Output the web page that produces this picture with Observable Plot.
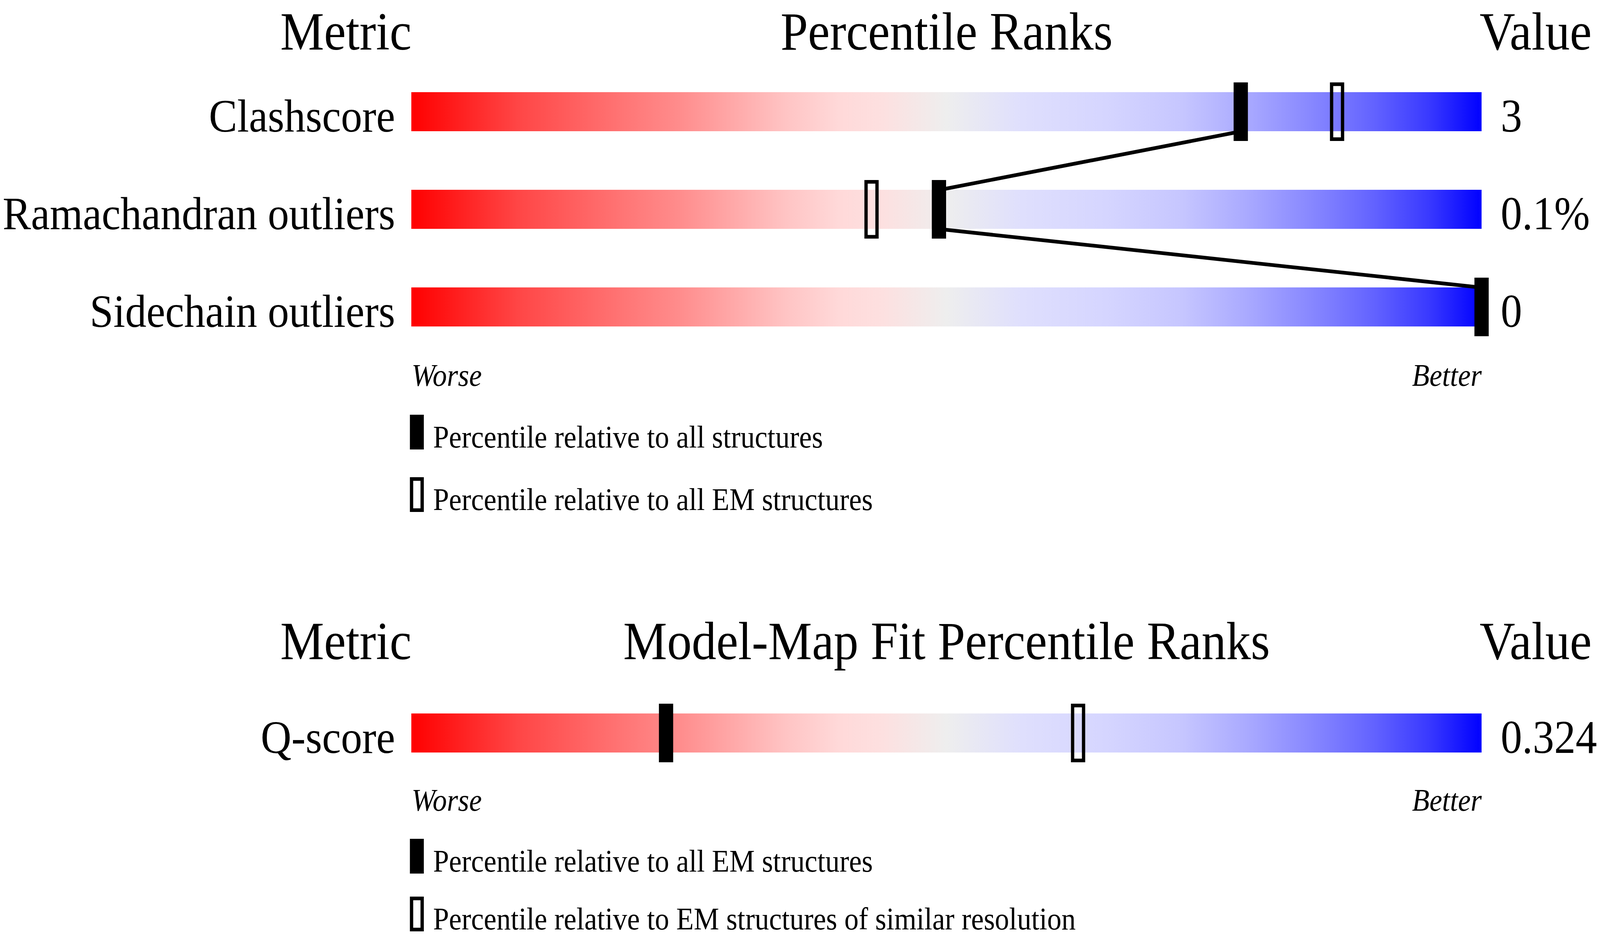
<!DOCTYPE html>
<html>
<head>
<meta charset="utf-8">
<script src="https://cdn.jsdelivr.net/npm/d3@7"></script>
<script src="https://cdn.jsdelivr.net/npm/@observablehq/plot@0.6"></script>
<style>
  html, body { margin: 0; padding: 0; background: #ffffff; overflow: hidden; }
  #wrap { position: relative; width: 4485px; height: 2402px; overflow: hidden; background: #ffffff;
          transform-origin: 0 0;
          font-family: "Liberation Serif", "Times New Roman", serif; }
  .part { position: absolute; left: 0; display: block; max-width: none !important; }
</style>
</head>
<body>
<div id="wrap"></div>
<script>
// ---------------- data ----------------
const percentDomain = [0, 100];

const geometryHeaders = ["Metric", "Percentile Ranks", "Value"];
const geometryMetrics = ["Clashscore", "Ramachandran outliers", "Sidechain outliers"];
const geometryValues = ["3", "0.1%", "0"];
const geometryAllPercentile = [77.5, 49.3, 100];
const geometryEMPercentile = [86.5, 43.0, null];
const geometryLegend = ["Percentile relative to all structures", "Percentile relative to all EM structures"];

const fitHeaders = ["Metric", "Model-Map Fit Percentile Ranks", "Value"];
const fitMetrics = ["Q-score"];
const fitValues = ["0.324"];
const fitAllEMPercentile = [23.8];
const fitSimilarPercentile = [62.3];
const fitLegend = ["Percentile relative to all EM structures", "Percentile relative to EM structures of similar resolution"];

const endLabels = ["Worse", "Better"];

// gradient colour stops (offset %, colour)
const gradientOffsets = [0, 10, 20, 25, 30, 35, 40, 44, 50, 57, 65, 72, 78, 85, 90, 95, 100];
const gradientColors = ["#ff0000", "#ff4646", "#ff7676", "#ff8c8c", "#ffa8a8", "#ffc4c4", "#ffd9d9", "#fde0e0",
                        "#eeeeee", "#dfdffd", "#d5d5ff", "#c6c6ff", "#aaaaff", "#8282ff", "#6262ff", "#3a3aff", "#0000ff"];

// ---------------- drawing ----------------
const FONT = "Liberation Serif";
const W = 4485, H = 2402;
const wrap = document.getElementById("wrap");

// fit the design to the actual viewport
const sx = Math.min(1, window.innerWidth / W);
const sy = Math.min(1, window.innerHeight / H);
wrap.style.transform = `scale(${sx}, ${sy})`;

function addGradient(svgNode, id) {
  const svg = d3.select(svgNode);
  const defs = svg.insert("defs", ":first-child");
  const g = defs.append("linearGradient").attr("id", id)
    .attr("x1", "0%").attr("x2", "100%").attr("y1", "0%").attr("y2", "0%");
  gradientOffsets.forEach((o, k) => {
    g.append("stop").attr("offset", o + "%").attr("stop-color", gradientColors[k]);
  });
}

function sectionPlot({headers, metrics, values, solid, hollow, height, headerY, rowY, endsY, gradId}) {
  const rows = metrics.map((m, i) => ({metric: m, i, value: values[i], solid: solid[i], hollow: hollow[i]}));
  const links = rows.slice(1).map((r, k) => ({
    x1: rows[k].solid, y1: rows[k].i + 0.2,
    x2: r.solid, y2: r.i - 0.2
  }));
  const mid = (percentDomain[0] + percentDomain[1]) / 2;
  const svg = Plot.plot({
    width: W,
    height,
    marginTop: 0, marginBottom: 0, marginLeft: 1153, marginRight: 332,
    style: {fontFamily: FONT, background: "#ffffff", color: "#000000", overflow: "visible", maxWidth: "none"},
    x: {domain: percentDomain, range: [1153, 4153], axis: null},
    y: {domain: [0, 1], range: [rowY, rowY + 250], axis: null},
    marks: [
      // column headers
      Plot.text([headers[0]], {x: percentDomain[0], frameAnchor: "top", dy: headerY, lineAnchor: "bottom",
        text: d => d, textAnchor: "end", fontSize: 138, fill: "#000"}),
      Plot.text([headers[1]], {x: mid, frameAnchor: "top", dy: headerY, lineAnchor: "bottom",
        text: d => d, textAnchor: "middle", fontSize: 138, fill: "#000"}),
      Plot.text([headers[2]], {x: percentDomain[1], frameAnchor: "top", dy: headerY, lineAnchor: "bottom",
        text: d => d, textAnchor: "start", dx: -6, fontSize: 138, fill: "#000"}),
      // gradient bars
      Plot.rect(rows, {x1: percentDomain[0], x2: percentDomain[1], y1: d => d.i - 0.2, y2: d => d.i + 0.2,
        fill: `url(#${gradId})`}),
      // connecting lines between the "all" percentiles
      Plot.link(links, {x1: "x1", y1: "y1", x2: "x2", y2: "y2", stroke: "#000", strokeWidth: 9.5}),
      // hollow markers
      Plot.rect(rows.filter(d => d.hollow != null), {x1: "hollow", x2: "hollow", y1: d => d.i - 0.3, y2: d => d.i + 0.3,
        insetLeft: -15.35, insetRight: -15.35, insetTop: 4.65, insetBottom: 4.65,
        fill: "none", stroke: "#000", strokeWidth: 9.3}),
      // solid markers
      Plot.rect(rows.filter(d => d.solid != null), {x1: "solid", x2: "solid", y1: d => d.i - 0.3, y2: d => d.i + 0.3,
        insetLeft: -20, insetRight: -20, fill: "#000"}),
      // metric labels
      Plot.text(rows, {x: percentDomain[0], y: d => d.i + 0.2, text: "metric", textAnchor: "end", lineAnchor: "bottom",
        dx: -46, fontSize: 119, fill: "#000"}),
      // values
      Plot.text(rows, {x: percentDomain[1], y: d => d.i + 0.2, text: "value", textAnchor: "start", lineAnchor: "bottom",
        dx: 53, fontSize: 120, fill: "#000"}),
      // worse / better
      Plot.text([endLabels[0]], {x: percentDomain[0], frameAnchor: "top", dy: endsY, lineAnchor: "bottom",
        text: d => d, textAnchor: "start", fontSize: 80, fontStyle: "italic", fill: "#000"}),
      Plot.text([endLabels[1]], {x: percentDomain[1], frameAnchor: "top", dy: endsY, lineAnchor: "bottom",
        text: d => d, textAnchor: "end", fontSize: 80, fontStyle: "italic", fill: "#000"})
    ]
  });
  addGradient(svg, gradId);
  return svg;
}

function legendSvg(labels, top, height, firstY, step) {
  const svg = d3.create("svg").attr("class", "part").attr("width", W).attr("height", height)
    .style("top", top + "px");
  labels.forEach((label, k) => {
    const y0 = firstY + k * step;
    if (k === 0) {
      svg.append("rect").attr("x", 1149).attr("y", y0).attr("width", 39).attr("height", 89).attr("fill", "#000");
    } else {
      svg.append("rect").attr("x", 1149 + 4.65).attr("y", y0 + 4.65).attr("width", 39 - 9.3).attr("height", 89 - 9.3)
        .attr("fill", "none").attr("stroke", "#000").attr("stroke-width", 9.3);
    }
    svg.append("text").attr("x", 1214).attr("y", y0 + 84).attr("font-size", 80)
      .attr("font-family", FONT).attr("fill", "#000").text(label);
  });
  return svg.node();
}

function place(node, top) {
  node.classList.add("part");
  node.style.top = top + "px";
  wrap.appendChild(node);
}

const plot1 = sectionPlot({
  headers: geometryHeaders, metrics: geometryMetrics, values: geometryValues,
  solid: geometryAllPercentile, hollow: geometryEMPercentile,
  height: 1010, headerY: 126, rowY: 286, endsY: 987, gradId: "grad1"
});
place(plot1, 0);
wrap.appendChild(legendSvg(geometryLegend, 1010, 320, 52, 160));

const plot2 = sectionPlot({
  headers: fitHeaders, metrics: fitMetrics, values: fitValues,
  solid: fitAllEMPercentile, hollow: fitSimilarPercentile,
  height: 770, headerY: 357, rowY: 547, endsY: 745, gradId: "grad2"
});
place(plot2, 1330);
wrap.appendChild(legendSvg(fitLegend, 2100, 302, 48, 148));
</script>
</body>
</html>
